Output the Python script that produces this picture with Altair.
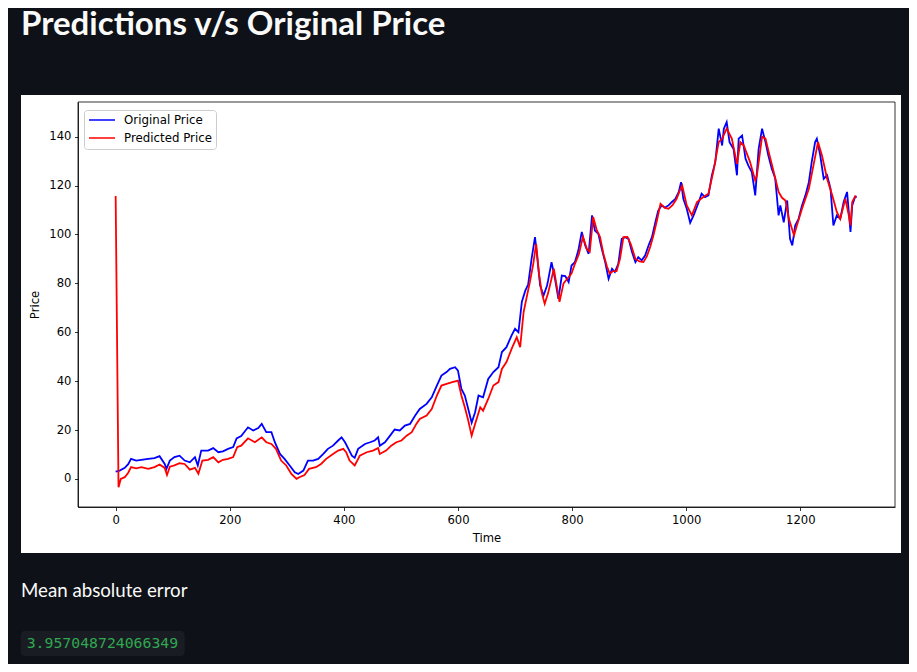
import altair as alt
import pandas as pd

# values
time_orig = [0, 7, 16, 22, 27, 36, 45, 57, 68, 77, 86, 89, 95, 103, 112, 121, 130, 139, 144, 150,
             162, 171, 180, 188, 197, 206, 212, 220, 232, 241, 250, 256, 264, 273, 279, 288, 296, 305, 314, 320,
             329, 337, 346, 355, 364, 372, 381, 390, 396, 402, 408, 414, 419, 425, 437, 446, 454, 460, 463, 472,
             481, 489, 498, 507, 516, 525, 533, 545, 554, 563, 571, 580, 586, 595, 600, 606, 612, 618, 624, 630,
             636, 644, 653, 662, 671, 677, 685, 694, 700, 706, 712, 718, 723, 729, 735, 738, 744, 750, 756, 758,
             764, 770, 776, 782, 788, 794, 799, 805, 811, 817, 823, 829, 835, 840, 846, 852, 858, 864, 870, 875,
             881, 887, 893, 899, 905, 911, 916, 922, 928, 934, 940, 946, 951, 957, 963, 969, 975, 981, 987, 991,
             995, 1001, 1007, 1013, 1022, 1027, 1033, 1039, 1045, 1051, 1057, 1063, 1066, 1071, 1076, 1083, 1089, 1092, 1098, 1104,
             1109, 1115, 1121, 1127, 1133, 1139, 1144, 1150, 1156, 1162, 1165, 1171, 1177, 1182, 1186, 1191, 1197, 1203, 1209, 1215,
             1220, 1226, 1229, 1235, 1241, 1247, 1253, 1258, 1264, 1270, 1276, 1282, 1288, 1291, 1296, 1299]
price_orig = [3.0, 3.4, 4.5, 6.0, 8.2, 7.5, 7.8, 8.2, 8.5, 9.3, 6.1, 4.1, 7.5, 8.9, 9.5, 7.5, 6.8, 8.9, 5.5, 11.6,
              11.6, 12.6, 10.9, 11.3, 12.3, 13.0, 16.6, 17.5, 21.1, 19.8, 20.8, 22.5, 19.1, 19.1, 15.0, 10.2, 8.2, 5.5, 2.7, 2.0,
              3.4, 7.5, 7.5, 8.2, 10.2, 12.3, 13.6, 15.7, 17.0, 15.0, 12.3, 9.5, 8.6, 12.3, 14.3, 15.0, 15.7, 17.0, 13.6, 15.0,
              17.7, 20.2, 19.8, 21.8, 22.5, 25.9, 28.6, 30.7, 33.4, 38.2, 42.3, 43.7, 45.0, 45.7, 44.3, 36.8, 34.1, 28.6, 23.0, 27.3,
              34.1, 33.4, 40.9, 43.7, 45.7, 51.9, 53.9, 58.7, 61.4, 60.0, 72.5, 77.0, 79.5, 90.0, 98.9, 92.8, 79.1, 75.0, 79.0, 81.2,
              88.7, 81.9, 73.7, 83.2, 83.0, 80.5, 87.3, 88.7, 93.5, 101.0, 95.5, 92.1, 107.8, 101.6, 100.3, 94.1, 88.7, 81.9, 86.0, 84.6,
              88.0, 98.2, 98.9, 98.2, 92.8, 88.7, 90.7, 89.4, 91.4, 95.5, 98.9, 105.0, 109.8, 111.9, 111.0, 111.9, 113.3, 114.6, 117.4, 121.4,
              114.6, 110.5, 104.8, 107.8, 113.3, 116.7, 115.3, 116.0, 124.2, 129.6, 143.3, 136.4, 143.3, 146.0, 137.8, 135.0, 124.2, 139.2, 140.5, 131.0,
              128.2, 125.5, 116.0, 135.0, 143.3, 137.8, 132.3, 126.9, 123.0, 107.8, 111.9, 105.0, 113.9, 98.2, 95.5, 103.7, 106.4, 111.9, 116.0, 121.4,
              129.6, 137.8, 139.2, 132.3, 122.8, 124.2, 118.7, 103.7, 107.8, 106.4, 113.3, 117.4, 101.0, 111.9, 115.3, 115.5]

time_pred = [0, 5, 9, 16, 22, 27, 36, 45, 57, 68, 77, 86, 90, 95, 103, 112, 121, 130, 139, 145,
             152, 162, 171, 180, 188, 197, 206, 213, 220, 232, 244, 256, 264, 273, 281, 290, 299, 308, 317, 322,
             331, 339, 351, 360, 369, 381, 390, 399, 404, 410, 419, 428, 440, 451, 460, 463, 474, 483, 492, 501,
             510, 519, 527, 533, 545, 554, 563, 571, 580, 590, 600, 606, 612, 618, 624, 630, 639, 644, 653, 662,
             671, 677, 685, 694, 703, 709, 715, 721, 726, 732, 737, 742, 747, 752, 758, 764, 768, 773, 778, 785,
             792, 799, 805, 812, 819, 826, 831, 837, 843, 849, 855, 861, 866, 872, 878, 884, 890, 897, 903, 911,
             918, 925, 931, 937, 943, 949, 955, 962, 969, 976, 983, 989, 993, 1001, 1010, 1019, 1030, 1039, 1048, 1057,
             1063, 1071, 1080, 1089, 1095, 1101, 1112, 1121, 1124, 1133, 1139, 1144, 1153, 1162, 1168, 1174, 1180, 1189, 1194, 1203,
             1215, 1223, 1231, 1238, 1247, 1256, 1264, 1270, 1279, 1285, 1288, 1291, 1297]
price_pred = [115.7, -3.4, 0.0, 0.7, 2.5, 4.8, 4.3, 4.8, 4.1, 4.8, 5.9, 4.5, 1.6, 5.0, 5.5, 6.4, 6.1, 3.8, 4.5, 2.1,
              7.5, 7.8, 8.9, 6.8, 7.8, 8.2, 8.9, 13.0, 13.6, 16.6, 15.0, 17.0, 15.0, 14.3, 12.3, 7.5, 5.5, 2.0, 0.0, 0.7,
              1.6, 4.1, 4.8, 6.1, 8.2, 10.2, 11.6, 12.3, 10.9, 7.5, 5.5, 9.5, 10.9, 11.6, 12.6, 10.2, 11.6, 13.6, 15.0, 15.7,
              17.7, 19.1, 22.5, 24.5, 25.9, 28.6, 34.1, 38.2, 38.9, 39.6, 40.2, 34.1, 29.3, 23.9, 17.7, 22.5, 29.3, 27.9, 32.7, 38.2,
              39.6, 45.0, 47.8, 53.2, 58.0, 53.9, 68.2, 75.0, 80.5, 88.0, 96.2, 84.0, 76.0, 71.6, 76.0, 82.0, 86.0, 79.0, 72.4, 80.0,
              82.0, 84.0, 88.0, 92.0, 99.0, 94.0, 93.0, 107.2, 102.0, 99.0, 92.0, 87.0, 84.0, 85.0, 85.0, 90.0, 98.9, 99.0, 96.0, 90.0,
              89.0, 88.7, 91.0, 95.0, 100.0, 106.0, 112.6, 111.0, 110.5, 112.0, 114.5, 118.0, 120.0, 111.9, 107.8, 113.3, 115.3, 116.7, 126.2, 137.8,
              139.2, 143.3, 139.2, 128.9, 137.8, 136.4, 129.6, 122.1, 124.2, 140.0, 139.2, 134.4, 126.0, 117.4, 115.0, 113.9, 106.4, 99.6, 103.7, 110.5,
              118.7, 128.2, 137.8, 132.3, 122.8, 116.0, 109.2, 106.4, 114.6, 107.8, 103.7, 113.3, 116.0]

series_names = ["Original Price", "Predicted Price"]
series_colors = ["#0000ff", "#ff0000"]
x_ticks = [0, 200, 400, 600, 800, 1000, 1200]
y_ticks = [0, 20, 40, 60, 80, 100, 120, 140]

page_title = "Predictions v/s Original Price"
metric_label = "Mean absolute error"
metric_value = "3.957048724066349"

lines_df = pd.concat([
    pd.DataFrame({"time": time_orig, "price": price_orig, "series": series_names[0]}),
    pd.DataFrame({"time": time_pred, "price": price_pred, "series": series_names[1]}),
])

PLOT_W, PLOT_H = 817, 405
one = pd.DataFrame({"k": [0]})

# white figure panel behind the axes
panel = alt.Chart(one).mark_rect(color="white").encode(
    x=alt.value(-57), x2=alt.value(823), y=alt.value(-7), y2=alt.value(451)
)

lines = alt.Chart(lines_df).mark_line(strokeWidth=1.8).encode(
    x=alt.X("time:Q", title="Time",
            scale=alt.Scale(domain=[-66, 1366], nice=False, zero=False),
            axis=alt.Axis(values=x_ticks, format="d", titlePadding=7, zindex=1)),
    y=alt.Y("price:Q", title="Price",
            scale=alt.Scale(domain=[-11.5, 154.2], nice=False, zero=False),
            axis=alt.Axis(values=y_ticks, format="d", titlePadding=8, zindex=1)),
    color=alt.Color("series:N",
                    scale=alt.Scale(domain=series_names, range=series_colors),
                    legend=alt.Legend(orient="none", legendX=6, legendY=8, title=None,
                                      fillColor="white", strokeColor="#cccccc", cornerRadius=3,
                                      padding=4, symbolType="M-2.6,0H2.6", symbolSize=100,
                                      symbolStrokeWidth=1.5, symbolOffset=8, labelOffset=16,
                                      labelFont="DejaVu Sans", labelFontSize=11.8, labelColor="black",
                                      rowPadding=5)),
)

frame = alt.Chart(one).mark_rect(fillOpacity=0, stroke="black", strokeWidth=0.8).encode(
    x=alt.value(0), x2=alt.value(PLOT_W), y=alt.value(0), y2=alt.value(PLOT_H)
)

title_text = alt.Chart(pd.DataFrame({"t": [page_title]})).mark_text(
    align="left", baseline="alphabetic", font="Lato", fontSize=33, fontWeight="bold", color="#fafafa"
).encode(x=alt.value(-57), y=alt.value(-67), text="t:N")

metric_text = alt.Chart(pd.DataFrame({"t": [metric_label]})).mark_text(
    align="left", baseline="alphabetic", font="Lato", fontSize=18.7, color="#fafafa"
).encode(x=alt.value(-57), y=alt.value(494.5), text="t:N")

code_box = alt.Chart(one).mark_rect(color="#1a1c24", cornerRadius=4).encode(
    x=alt.value(-57.3), x2=alt.value(106.7), y=alt.value(529), y2=alt.value(554)
)

code_text = alt.Chart(pd.DataFrame({"t": [metric_value]})).mark_text(
    align="left", baseline="middle", font="DejaVu Sans Mono", fontSize=14.8, color="#2fa84f"
).encode(x=alt.value(-51.3), y=alt.value(541.5), text="t:N")

chart = alt.layer(panel, lines, frame, code_box, title_text, metric_text, code_text).properties(
    width=PLOT_W,
    height=PLOT_H,
    padding={"left": 70, "top": 94, "right": 14, "bottom": 157},
    autosize=alt.AutoSizeParams(type="none"),
    background="#0e1117",
).configure_axis(
    grid=False,
    domainColor="black", domainWidth=0.8,
    tickColor="black", tickWidth=0.8, tickSize=3.5,
    labelColor="black", labelFont="DejaVu Sans", labelFontSize=11.6, labelPadding=3.5,
    titleColor="black", titleFont="DejaVu Sans", titleFontSize=11.6, titleFontWeight="normal",
).configure_view(
    stroke="transparent"
)

chart.save("out.html", embed_options={"renderer": "svg", "actions": False})
